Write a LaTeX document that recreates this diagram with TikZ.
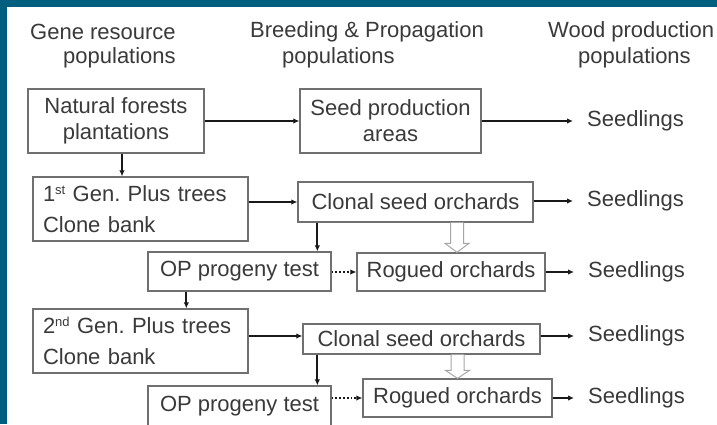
\documentclass[tikz,border=0pt]{standalone}
\usepackage{fontspec}
\setmainfont{Liberation Sans}
\usetikzlibrary{arrows.meta,calc}
\definecolor{teal0}{HTML}{005F7E}
\definecolor{txt}{HTML}{3A3A3A}
\definecolor{boxline}{HTML}{707070}
\frenchspacing
\begin{document}
\begin{tikzpicture}[x=1pt,y=-1pt,
  every node/.style={font=\fontsize{22}{26}\selectfont, text=txt},
  box/.style={draw=boxline, line width=1.3pt, inner sep=0pt, align=center},
  genbox/.style={box, align=left, text width=195pt, inner xsep=10pt, minimum width=215pt, minimum height=64pt, font=\fontsize{22}{31}\selectfont},
  arr/.style={draw=black!90, line width=1.8pt, -{Latex[length=6pt,width=5.5pt]}},
  darr/.style={arr, dotted, line width=1.6pt},
  harrow/.style={draw=black!35, fill=white, line width=1pt},
  lbl/.style={anchor=west, inner sep=0pt}]
\useasboundingbox (0,0) rectangle (717,424);
\clip (0,0) rectangle (717,424);
\fill[white] (0,0) rectangle (717,424);
\fill[teal0] (0,0) rectangle (717,7);
\fill[teal0] (0,0) rectangle (7,424);

% headers
\node[lbl] (h1a) at (30,32) {Gene resource};
\node[lbl] (h1b) at (63,58) {populations};
\node[lbl] (h2a) at (250,32) {Breeding \& Propagation};
\node[lbl] (h2b) at (282,58) {populations};
\node[lbl] (h3a) at (548,32) {Wood production};
\node[lbl] (h3b) at (578,58) {populations};

% boxes
\node[box, minimum width=176pt, minimum height=64pt] (nat) at (116,121) {Natural forests\\plantations};
\node[box, minimum width=181pt, minimum height=64pt] (seed) at (390.5,121) {Seed production\\areas};
\node[genbox] (gen1) at (140.5,209) {1{\fontsize{13}{13}\selectfont\raisebox{0.55em}{st}} Gen. Plus trees\\Clone bank};
\node[box, minimum width=235pt, minimum height=40pt] (cso1) at (415.5,202) {Clonal seed orchards};
\node[box, minimum width=183pt, minimum height=39pt] (op1) at (239.5,271.5) {OP progeny test};
\node[box, minimum width=188pt, minimum height=38pt] (rog1) at (451,272) {Rogued orchards};
\node[genbox] (gen2) at (140.5,341) {2{\fontsize{13}{13}\selectfont\raisebox{0.55em}{nd}} Gen. Plus trees\\Clone bank};
\node[box, minimum width=237pt, minimum height=30pt] (cso2) at (421.5,339) {Clonal seed orchards};
\node[box, minimum width=183pt, minimum height=40pt] (op2) at (239.5,406) {OP progeny test};
\node[box, minimum width=189pt, minimum height=38pt] (rog2) at (457.5,398) {Rogued orchards};

% seedlings
\node[lbl] (s1) at (587,121) {Seedlings};
\node[lbl] (s2) at (587,201) {Seedlings};
\node[lbl] (s3) at (588,272) {Seedlings};
\node[lbl] (s4) at (588,336) {Seedlings};
\node[lbl] (s5) at (588,398) {Seedlings};

% horizontal arrows
\draw[arr] (nat.east) -- (seed.west);
\draw[arr] (cso1.west -| gen1.east) -- (cso1.west);
\draw[arr] (s4.west -| gen2.east) -- (s4.west -| cso2.west);
\draw[arr, shorten >=14pt] (s1.west -| seed.east) -- (s1.west);
\draw[arr, shorten >=14pt] (s2.west -| cso1.east) -- (s2.west);
\draw[arr, shorten >=14pt] (s3.west -| rog1.east) -- (s3.west);
\draw[arr, shorten >=14pt] (s4.west -| cso2.east) -- (s4.west);
\draw[arr, shorten >=14pt] (s5.west -| rog2.east) -- (s5.west);
\draw[darr] (rog1.west -| op1.east) -- (rog1.west);
\draw[darr] (rog2.west -| op2.east) -- (rog2.west);

% vertical arrows
\draw[arr] ([xshift=6pt]nat.south) -- ([xshift=6pt]nat.south |- gen1.north);
\coordinate (c1) at ([xshift=20pt]cso1.south west);
\draw[arr] (c1) -- (c1 |- op1.north);
\coordinate (c2) at ([xshift=39pt]op1.south west);
\draw[arr] (c2) -- (c2 |- gen2.north);
\coordinate (c3) at ([xshift=15pt]cso2.south west);
\draw[arr] (c3) -- (c3 |- op2.north);

% hollow arrows
\coordinate (ha1) at ($(rog1.north |- cso1.south)+(6,0)$);
\coordinate (hb1) at ($(rog1.north)+(6,0)$);
\draw[harrow] let \p1=(ha1), \p2=(hb1) in
  (\x1-6.5pt,\y1) -- (\x1-6.5pt,\y2+9pt) -- (\x1-12pt,\y2+9pt) -- (\x2,\y2)
  -- (\x1+12pt,\y2+9pt) -- (\x1+6.5pt,\y2+9pt) -- (\x1+6.5pt,\y1);
\coordinate (ha2) at ($(rog2.north |- cso2.south)+(0,0)$);
\coordinate (hb2) at ($(rog2.north)+(0,0)$);
\draw[harrow] let \p1=(ha2), \p2=(hb2) in
  (\x1-6.5pt,\y1) -- (\x1-6.5pt,\y2+8pt) -- (\x1-12pt,\y2+8pt) -- (\x2,\y2)
  -- (\x1+12pt,\y2+8pt) -- (\x1+6.5pt,\y2+8pt) -- (\x1+6.5pt,\y1);
\end{tikzpicture}
\end{document}
